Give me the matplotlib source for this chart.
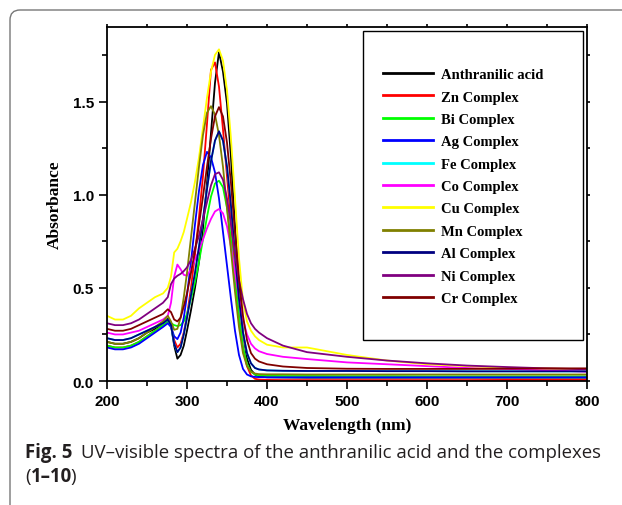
import matplotlib
matplotlib.use('Agg')
import matplotlib.pyplot as plt
from matplotlib.patches import FancyBboxPatch, Rectangle
from matplotlib.transforms import IdentityTransform
from matplotlib.ticker import MultipleLocator

# UV-vis spectra (absorbance vs wavelength in nm)
wavelength = [200, 210, 220, 230, 240, 250, 260, 270, 276, 280, 284, 288, 292, 296,
              300, 305, 310, 315, 320, 325, 330, 335, 340, 345, 350, 355, 360, 365,
              370, 375, 380, 385, 390, 400, 420, 450, 500, 550, 600, 650, 700, 750, 800]

anthranilic = [0.21, 0.20, 0.20, 0.21, 0.23, 0.26, 0.28, 0.31, 0.335, 0.30, 0.19, 0.12, 0.14, 0.19,
               0.27, 0.38, 0.50, 0.64, 0.82, 1.06, 1.33, 1.60, 1.765, 1.66, 1.49, 1.20, 0.83, 0.50,
               0.26, 0.12, 0.06, 0.035, 0.025, 0.02, 0.019, 0.018, 0.018, 0.018, 0.018, 0.018, 0.018, 0.018, 0.018]
zn = [0.19, 0.18, 0.18, 0.19, 0.21, 0.24, 0.27, 0.30, 0.32, 0.30, 0.22, 0.18, 0.20, 0.26,
      0.35, 0.50, 0.68, 0.88, 1.10, 1.38, 1.67, 1.71, 1.58, 1.35, 1.10, 0.85, 0.58, 0.35,
      0.18, 0.08, 0.03, 0.012, 0.008, 0.006, 0.005, 0.005, 0.005, 0.005, 0.005, 0.005, 0.006, 0.006, 0.006]
bi = [0.19, 0.18, 0.18, 0.19, 0.21, 0.24, 0.27, 0.30, 0.32, 0.31, 0.30, 0.295, 0.30, 0.32,
      0.36, 0.44, 0.53, 0.64, 0.76, 0.88, 0.99, 1.06, 1.075, 1.04, 0.93, 0.76, 0.55, 0.34,
      0.18, 0.09, 0.05, 0.035, 0.03, 0.028, 0.027, 0.027, 0.026, 0.026, 0.025, 0.025, 0.025, 0.025, 0.025]
ag = [0.18, 0.17, 0.17, 0.18, 0.20, 0.23, 0.26, 0.29, 0.31, 0.29, 0.24, 0.225, 0.26, 0.34,
      0.46, 0.64, 0.84, 1.02, 1.16, 1.23, 1.20, 1.12, 0.98, 0.80, 0.62, 0.44, 0.27, 0.14,
      0.065, 0.035, 0.025, 0.022, 0.021, 0.02, 0.02, 0.02, 0.02, 0.02, 0.02, 0.02, 0.02, 0.02, 0.02]
fe = [0.23, 0.22, 0.22, 0.23, 0.25, 0.27, 0.29, 0.31, 0.33, 0.30, 0.20, 0.155, 0.18, 0.25,
      0.34, 0.46, 0.58, 0.72, 0.87, 1.03, 1.18, 1.29, 1.34, 1.29, 1.15, 0.94, 0.68, 0.44,
      0.26, 0.15, 0.095, 0.07, 0.062, 0.057, 0.055, 0.054, 0.054, 0.053, 0.053, 0.052, 0.052, 0.052, 0.052]
co = [0.26, 0.25, 0.25, 0.26, 0.27, 0.29, 0.31, 0.33, 0.35, 0.42, 0.56, 0.625, 0.60, 0.57,
      0.565, 0.60, 0.65, 0.70, 0.76, 0.82, 0.87, 0.91, 0.923, 0.90, 0.83, 0.72, 0.58, 0.45,
      0.33, 0.25, 0.20, 0.175, 0.16, 0.145, 0.13, 0.118, 0.10, 0.09, 0.08, 0.07, 0.065, 0.058, 0.05]
cu = [0.35, 0.33, 0.33, 0.35, 0.39, 0.42, 0.45, 0.47, 0.50, 0.56, 0.69, 0.71, 0.75, 0.80,
      0.87, 0.96, 1.07, 1.20, 1.36, 1.52, 1.66, 1.75, 1.78, 1.72, 1.56, 1.30, 0.98, 0.66,
      0.43, 0.32, 0.27, 0.24, 0.22, 0.195, 0.18, 0.18, 0.14, 0.11, 0.09, 0.08, 0.072, 0.067, 0.063]
mn = [0.21, 0.20, 0.20, 0.21, 0.23, 0.26, 0.29, 0.32, 0.35, 0.32, 0.275, 0.28, 0.34, 0.45,
      0.58, 0.77, 0.96, 1.15, 1.32, 1.44, 1.475, 1.43, 1.32, 1.15, 0.93, 0.70, 0.48, 0.29,
      0.15, 0.08, 0.05, 0.04, 0.037, 0.036, 0.036, 0.035, 0.035, 0.035, 0.035, 0.035, 0.035, 0.035, 0.035]
al = [0.23, 0.22, 0.22, 0.23, 0.25, 0.27, 0.29, 0.31, 0.33, 0.30, 0.20, 0.155, 0.18, 0.25,
      0.34, 0.46, 0.58, 0.72, 0.87, 1.03, 1.18, 1.29, 1.34, 1.29, 1.15, 0.94, 0.68, 0.44,
      0.26, 0.15, 0.095, 0.07, 0.062, 0.057, 0.055, 0.054, 0.054, 0.053, 0.053, 0.052, 0.052, 0.052, 0.052]
ni = [0.31, 0.30, 0.30, 0.31, 0.33, 0.36, 0.39, 0.42, 0.45, 0.52, 0.55, 0.565, 0.575, 0.59,
      0.61, 0.65, 0.71, 0.78, 0.87, 0.96, 1.05, 1.11, 1.12, 1.08, 0.98, 0.84, 0.68, 0.54,
      0.44, 0.36, 0.31, 0.28, 0.26, 0.23, 0.19, 0.155, 0.13, 0.11, 0.095, 0.083, 0.075, 0.068, 0.063]
cr = [0.28, 0.27, 0.27, 0.28, 0.30, 0.32, 0.34, 0.36, 0.385, 0.37, 0.33, 0.32, 0.34, 0.40,
      0.47, 0.58, 0.70, 0.84, 0.99, 1.15, 1.30, 1.42, 1.47, 1.42, 1.28, 1.06, 0.80, 0.55,
      0.35, 0.22, 0.15, 0.12, 0.105, 0.09, 0.078, 0.07, 0.066, 0.065, 0.065, 0.065, 0.066, 0.068, 0.068]

labels = ['Anthranilic acid', 'Zn Complex', 'Bi Complex', 'Ag Complex', 'Fe Complex',
          'Co Complex', 'Cu Complex', 'Mn Complex', 'Al Complex', 'Ni Complex', 'Cr Complex']
series = [anthranilic, zn, bi, ag, fe, co, cu, mn, al, ni, cr]
colors = ['#000000', '#ff0000', '#00ff00', '#0000ff', '#00ffff', '#ff00ff',
          '#ffff00', '#808000', '#000080', '#800080', '#800000']

fig = plt.figure(figsize=(6.22, 5.06), dpi=100)
ax = fig.add_axes([0.172, 0.245, 0.7717, 0.6997])

for y, label, color in zip(series, labels, colors):
    ax.plot(wavelength, y, color=color, linewidth=1.3, label=label)

ax.set_xlim(200, 800)
ax.set_ylim(0, 1.90)
ax.xaxis.set_major_locator(MultipleLocator(100))
ax.xaxis.set_minor_locator(MultipleLocator(50))
ax.yaxis.set_major_locator(MultipleLocator(0.5))
ax.yaxis.set_minor_locator(MultipleLocator(0.25))
ax.tick_params(which='both', direction='out', width=1.2)
ax.tick_params(which='major', length=6)
ax.tick_params(which='minor', length=3.5)
# small ticks on the top and right frame
ax.tick_params(which='both', top=True, right=True)
for t in ax.xaxis.get_major_ticks() + ax.xaxis.get_minor_ticks():
    t.tick2line.set_markersize(2.5)
for t in ax.yaxis.get_major_ticks() + ax.yaxis.get_minor_ticks():
    t.tick2line.set_markersize(2.5)
for lab in ax.get_xticklabels() + ax.get_yticklabels():
    lab.set_family('Liberation Sans')
    lab.set_fontweight('bold')
    lab.set_fontsize(11)
for sp in ax.spines.values():
    sp.set_linewidth(1.3)

ax.set_xlabel('Wavelength (nm)', family='Liberation Serif', fontweight='bold', fontsize=12.5, labelpad=6)
ax.set_ylabel('Absorbance', family='Liberation Serif', fontweight='bold', fontsize=12.5, labelpad=7)

# legend box drawn separately so it can be sized like the original
box = Rectangle((0.533, 0.116), 0.459, 0.873, transform=ax.transAxes,
                facecolor='white', edgecolor='black', linewidth=1.0, zorder=5)
ax.add_patch(box)
leg = ax.legend(loc='upper left', bbox_to_anchor=(0.56, 0.905), frameon=False,
                prop={'family': 'Liberation Serif', 'weight': 'bold', 'size': 10.5},
                handlelength=3.4, handletextpad=0.6, labelspacing=0.63, borderpad=0)
leg.set_zorder(6)
for h in leg.get_lines():
    h.set_linewidth(2)

# page frame with rounded top-left corner
frame = FancyBboxPatch((10, -30), 700, 525, boxstyle='round,pad=0,rounding_size=10',
                       transform=IdentityTransform(), facecolor='none',
                       edgecolor='#777777', linewidth=1.0)
fig.add_artist(frame)

# caption
cap = {'family': 'Open Sans', 'size': 13.4, 'color': '#231f20'}
r = fig.canvas.get_renderer()
t1 = fig.text(25 / 622, 1 - 453 / 506, 'Fig. 5', fontweight='bold', va='center', **cap)
x1 = t1.get_window_extent(r).x1 / 622
fig.text(x1 + 9 / 622, 1 - 453 / 506, 'UV–visible spectra of the anthranilic acid and the complexes',
         va='center', **cap)
t2 = fig.text(25 / 622, 1 - 477 / 506, '(', va='center', **cap)
x2 = t2.get_window_extent(r).x1 / 622
t3 = fig.text(x2, 1 - 477 / 506, '1–10', fontweight='bold', va='center', **cap)
x3 = t3.get_window_extent(r).x1 / 622
fig.text(x3 - 1 / 622, 1 - 477 / 506, ')', va='center', **cap)

plt.savefig('out.png', dpi=100)
plt.close()
